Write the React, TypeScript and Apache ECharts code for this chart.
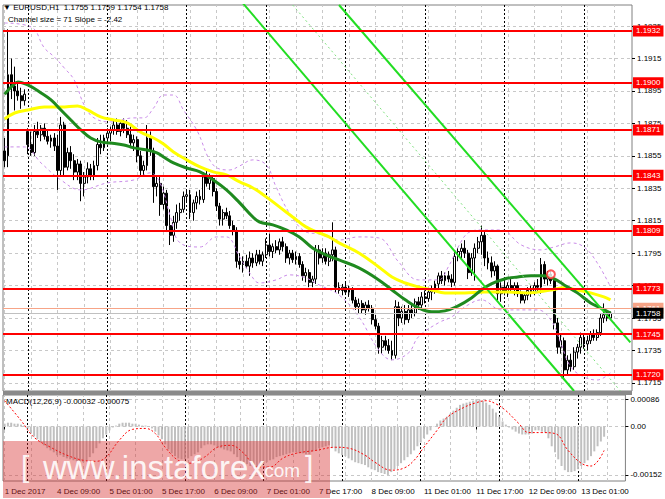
import React, { useEffect, useRef } from 'react';
import * as echarts from 'echarts';

const FONT = 'Liberation Sans';

const barCount = 190;
const labelStep = 16;
const gridStep = 8;
const timeLabels = [
  '1 Dec 2017', '4 Dec 09:00', '5 Dec 01:00', '5 Dec 17:00', '6 Dec 09:00', '7 Dec 01:00',
  '7 Dec 17:00', '8 Dec 09:00', '11 Dec 01:00', '11 Dec 17:00', '12 Dec 09:00', '13 Dec 01:00',
];
const daySeparators = [7, 31, 55, 79, 103, 127, 151, 175];

const priceTicks = [1.1715, 1.1735, 1.1755, 1.1775, 1.1795, 1.1815, 1.1835, 1.1855, 1.1875, 1.1895, 1.1915, 1.1935];
const macdTicks = [0.00086, 0, -0.00152];
const levels = [1.1932, 1.19, 1.1871, 1.1843, 1.1809, 1.1773, 1.1745, 1.172];
const askPrice = 1.1761;
const bidPrice = 1.1758;
const alertPoint = [165, 1.1782];

// [open, high, low, close]
const candles = [
  [1.1858, 1.1866, 1.1848, 1.1852], [1.1855, 1.1933, 1.1848, 1.1905], [1.1905, 1.1915, 1.189, 1.1898],
  [1.1898, 1.191, 1.1883, 1.1895], [1.1895, 1.19, 1.1889, 1.1892], [1.1892, 1.1897, 1.1884, 1.1889],
  [1.1889, 1.1896, 1.1886, 1.1893], [1.187, 1.1872, 1.1856, 1.1862], [1.1862, 1.187, 1.1855, 1.1857],
  [1.1857, 1.1874, 1.1855, 1.187], [1.187, 1.1876, 1.1866, 1.1868], [1.1868, 1.1874, 1.1864, 1.1872],
  [1.1872, 1.1875, 1.1865, 1.1867], [1.1867, 1.1871, 1.1862, 1.1864], [1.1864, 1.1868, 1.186, 1.1866],
  [1.1866, 1.1869, 1.1858, 1.1861], [1.1861, 1.1868, 1.1834, 1.1846], [1.1846, 1.1879, 1.1843, 1.1874],
  [1.1874, 1.1876, 1.1842, 1.1848], [1.1848, 1.186, 1.1846, 1.1857], [1.1857, 1.1861, 1.1847, 1.1852],
  [1.1852, 1.1856, 1.184, 1.1845], [1.1845, 1.1853, 1.184, 1.185], [1.185, 1.1852, 1.1827, 1.1838],
  [1.1838, 1.1845, 1.183, 1.1842], [1.1842, 1.1851, 1.1838, 1.1847], [1.1847, 1.185, 1.184, 1.1843],
  [1.1843, 1.1852, 1.184, 1.1849], [1.1849, 1.1866, 1.1846, 1.1862], [1.1862, 1.1868, 1.1856, 1.186],
  [1.186, 1.1868, 1.1858, 1.1866], [1.1866, 1.1872, 1.1862, 1.1869], [1.1869, 1.1873, 1.1864, 1.1871],
  [1.1871, 1.1877, 1.1868, 1.1874], [1.1874, 1.1878, 1.1868, 1.187], [1.187, 1.1876, 1.1867, 1.1875],
  [1.1875, 1.1878, 1.1869, 1.1872], [1.1872, 1.1877, 1.1866, 1.1868], [1.1868, 1.1873, 1.186, 1.1863],
  [1.1863, 1.1868, 1.1858, 1.1865], [1.1865, 1.1867, 1.1851, 1.1855], [1.1855, 1.1858, 1.1842, 1.1846],
  [1.1846, 1.1852, 1.1843, 1.1849], [1.1849, 1.1874, 1.1846, 1.1866], [1.1866, 1.187, 1.1855, 1.1858],
  [1.1858, 1.186, 1.1826, 1.1836], [1.1836, 1.1842, 1.183, 1.1838], [1.1838, 1.1842, 1.1818, 1.1825],
  [1.1825, 1.1836, 1.1822, 1.1832], [1.1832, 1.1834, 1.1808, 1.1812], [1.1812, 1.1822, 1.18, 1.1806],
  [1.1806, 1.1818, 1.1802, 1.1814], [1.1814, 1.1825, 1.181, 1.182], [1.182, 1.1826, 1.1815, 1.1822],
  [1.1822, 1.1833, 1.182, 1.183], [1.183, 1.1834, 1.1826, 1.1831], [1.1831, 1.1834, 1.1816, 1.182],
  [1.182, 1.1828, 1.1815, 1.1826], [1.1826, 1.1833, 1.1822, 1.183], [1.183, 1.1834, 1.1825, 1.1828],
  [1.1828, 1.1845, 1.1826, 1.1842], [1.1842, 1.1847, 1.1836, 1.1838], [1.1838, 1.1844, 1.1834, 1.1841],
  [1.1841, 1.1843, 1.183, 1.1833], [1.1833, 1.1835, 1.1821, 1.1824], [1.1824, 1.1826, 1.1812, 1.1816],
  [1.1816, 1.1822, 1.1812, 1.182], [1.182, 1.1823, 1.1816, 1.1818], [1.1818, 1.1821, 1.181, 1.1812],
  [1.1812, 1.1815, 1.1806, 1.1809], [1.1809, 1.1811, 1.1786, 1.179], [1.179, 1.1795, 1.1785, 1.1788],
  [1.1788, 1.1793, 1.1783, 1.179], [1.179, 1.1794, 1.1786, 1.1787], [1.1787, 1.1796, 1.1781, 1.1792],
  [1.1792, 1.1795, 1.1786, 1.1789], [1.1789, 1.1797, 1.1787, 1.1794], [1.1794, 1.1797, 1.1788, 1.179],
  [1.179, 1.1796, 1.1787, 1.1794], [1.1794, 1.1804, 1.1792, 1.18], [1.18, 1.1807, 1.1793, 1.1796],
  [1.1796, 1.1801, 1.1792, 1.1799], [1.1799, 1.1803, 1.1795, 1.1797], [1.1797, 1.1804, 1.1794, 1.1802],
  [1.1802, 1.1805, 1.1796, 1.1799], [1.1799, 1.1801, 1.1789, 1.1792], [1.1792, 1.1797, 1.1788, 1.1795],
  [1.1795, 1.1797, 1.1789, 1.1791], [1.1791, 1.1796, 1.1788, 1.1793], [1.1793, 1.1795, 1.1786, 1.1788],
  [1.1788, 1.179, 1.1778, 1.1781], [1.1781, 1.1786, 1.1777, 1.1783], [1.1783, 1.1785, 1.1774, 1.1777],
  [1.1777, 1.1781, 1.1774, 1.1779], [1.1779, 1.18, 1.1776, 1.1797], [1.1797, 1.18, 1.1788, 1.1792],
  [1.1792, 1.1798, 1.1789, 1.1795], [1.1795, 1.1798, 1.1788, 1.179], [1.179, 1.1796, 1.1787, 1.1794],
  [1.1794, 1.1814, 1.179, 1.1797], [1.1797, 1.1799, 1.1771, 1.1774], [1.1774, 1.1777, 1.177, 1.1772],
  [1.1772, 1.1776, 1.1769, 1.1774], [1.1774, 1.1777, 1.177, 1.1771], [1.1771, 1.1775, 1.1768, 1.1773],
  [1.1773, 1.1774, 1.1764, 1.1766], [1.1766, 1.1768, 1.176, 1.1762], [1.1762, 1.1767, 1.1758, 1.1764],
  [1.1764, 1.1766, 1.1758, 1.176], [1.176, 1.1765, 1.1757, 1.1763], [1.1763, 1.1766, 1.1759, 1.1761],
  [1.1761, 1.1763, 1.1751, 1.1754], [1.1754, 1.1757, 1.1748, 1.175], [1.175, 1.1752, 1.1733, 1.1737],
  [1.1737, 1.1744, 1.1733, 1.1741], [1.1741, 1.1744, 1.1735, 1.1738], [1.1738, 1.1742, 1.1733, 1.1735],
  [1.1735, 1.1741, 1.1729, 1.1732], [1.1732, 1.1766, 1.173, 1.1762], [1.1762, 1.1765, 1.175, 1.1755],
  [1.1755, 1.1762, 1.1752, 1.1759], [1.1759, 1.1763, 1.1751, 1.1754], [1.1754, 1.1763, 1.1752, 1.176],
  [1.176, 1.1764, 1.1755, 1.1758], [1.1758, 1.1767, 1.1756, 1.1765], [1.1765, 1.1768, 1.176, 1.1763],
  [1.1763, 1.1771, 1.1761, 1.1768], [1.1768, 1.1772, 1.1764, 1.1767], [1.1767, 1.1773, 1.1765, 1.1771],
  [1.1771, 1.1775, 1.1766, 1.1773], [1.1773, 1.1778, 1.177, 1.1776], [1.1776, 1.1783, 1.1773, 1.1781],
  [1.1781, 1.1784, 1.1776, 1.1778], [1.1778, 1.1783, 1.1775, 1.1781], [1.1781, 1.1784, 1.1777, 1.1779],
  [1.1779, 1.1782, 1.1774, 1.1777], [1.1777, 1.1796, 1.1775, 1.1793], [1.1793, 1.1798, 1.179, 1.1796],
  [1.1796, 1.1801, 1.1791, 1.1798], [1.1798, 1.1803, 1.1792, 1.1795], [1.1795, 1.1797, 1.1779, 1.1783],
  [1.1783, 1.1795, 1.1781, 1.1792], [1.1792, 1.1801, 1.1778, 1.1798], [1.1798, 1.1805, 1.1795, 1.1802],
  [1.1802, 1.1812, 1.1794, 1.1806], [1.1806, 1.1808, 1.1787, 1.1792], [1.1792, 1.1796, 1.1785, 1.1789],
  [1.1789, 1.1793, 1.178, 1.1784], [1.1784, 1.179, 1.1781, 1.1787], [1.1787, 1.1788, 1.1766, 1.177],
  [1.177, 1.1777, 1.1765, 1.1774], [1.1774, 1.1779, 1.1769, 1.1771], [1.1771, 1.1777, 1.1768, 1.1775],
  [1.1775, 1.1779, 1.1771, 1.1773], [1.1773, 1.1777, 1.1769, 1.1775], [1.1775, 1.1777, 1.1768, 1.177],
  [1.177, 1.1772, 1.1764, 1.1766], [1.1766, 1.1771, 1.1764, 1.1769], [1.1769, 1.1774, 1.1766, 1.1772],
  [1.1772, 1.1775, 1.1768, 1.1771], [1.1771, 1.1777, 1.1769, 1.1775], [1.1775, 1.1779, 1.1771, 1.1774],
  [1.1774, 1.1792, 1.177, 1.1788], [1.1788, 1.179, 1.1776, 1.1779], [1.1779, 1.1784, 1.1775, 1.1782],
  [1.1782, 1.1784, 1.1776, 1.1778], [1.1778, 1.178, 1.1748, 1.1752], [1.1752, 1.1755, 1.1733, 1.1737],
  [1.1737, 1.1745, 1.1733, 1.1741], [1.1741, 1.1743, 1.1717, 1.1723], [1.1723, 1.1732, 1.172, 1.1729],
  [1.1729, 1.1733, 1.1722, 1.1725], [1.1725, 1.1737, 1.1723, 1.1734], [1.1734, 1.1739, 1.173, 1.1737],
  [1.1737, 1.1746, 1.1733, 1.1743], [1.1743, 1.1745, 1.1736, 1.1739], [1.1739, 1.1744, 1.1735, 1.1741],
  [1.1741, 1.1747, 1.1739, 1.1745], [1.1745, 1.1748, 1.1741, 1.1743], [1.1743, 1.1748, 1.1741, 1.1746],
  [1.1746, 1.1758, 1.1744, 1.1755], [1.1755, 1.1764, 1.1752, 1.1757], [1.1757, 1.176, 1.1753, 1.1755],
  [1.1755, 1.1759, 1.1754, 1.1758],
];

// [bar, price]
const greenMa = [
  [0, 1.1893], [2, 1.18975], [4, 1.19006], [7, 1.18987], [11, 1.18938], [14, 1.18895], [17, 1.18833],
  [20, 1.18771], [23, 1.1871], [26, 1.1866], [29, 1.18636], [32, 1.18629], [36, 1.18617], [39, 1.18599],
  [43, 1.18586], [46, 1.18568], [48, 1.18543], [51, 1.18506], [55, 1.18475], [59, 1.18451], [63, 1.18401],
  [67, 1.1834], [71, 1.1826], [75, 1.18173], [77, 1.18142], [81, 1.18124], [85, 1.18093], [89, 1.1805],
  [93, 1.17982], [97, 1.17939], [101, 1.17908], [107, 1.17859], [113, 1.17785], [117, 1.17723],
  [121, 1.17662], [125, 1.17612], [129, 1.17588], [133, 1.17594], [137, 1.17625], [141, 1.17674],
  [144, 1.17723], [147, 1.1776], [151, 1.17791], [155, 1.17803], [159, 1.1781], [163, 1.1781],
  [166, 1.17791], [169, 1.17754], [173, 1.17705], [177, 1.17643], [180, 1.17612], [183, 1.1758],
];
const yellowMa = [
  [0, 1.18777], [3, 1.18814], [7, 1.18833], [12, 1.18851], [17, 1.18851], [22, 1.18858], [25, 1.18833],
  [29, 1.1879], [33, 1.18771], [37, 1.18753], [41, 1.18697], [45, 1.1866], [48, 1.18623], [51, 1.18574],
  [55, 1.18525], [59, 1.18482], [63, 1.18451], [67, 1.18432], [71, 1.18389], [75, 1.18352], [79, 1.18297],
  [83, 1.18235], [87, 1.18173], [91, 1.18112], [95, 1.18075], [98, 1.1805], [101, 1.18013], [107, 1.17951],
  [113, 1.17865], [117, 1.17803], [121, 1.17766], [125, 1.17742], [129, 1.17723], [133, 1.17705],
  [139, 1.17705], [145, 1.17711], [152, 1.17711], [158, 1.17705], [165, 1.17723], [169, 1.17736],
  [173, 1.17723], [177, 1.17705], [181, 1.1768], [183, 1.17662],
];
const bandUpper = [
  [0, 1.19369], [8, 1.19345], [12, 1.19215], [15, 1.1916], [18, 1.19092], [21, 1.19018], [24, 1.18864],
  [27, 1.18784], [32, 1.18759], [39, 1.18784], [42, 1.18784], [45, 1.18845], [48, 1.18925], [51, 1.18925],
  [54, 1.18833], [58, 1.1871], [63, 1.18494], [68, 1.18463], [71, 1.18488], [75, 1.18525], [79, 1.18494],
  [82, 1.18358], [86, 1.18198], [91, 1.18081], [95, 1.18068], [101, 1.18031], [107, 1.1805], [113, 1.18044],
  [119, 1.17896], [125, 1.17785], [131, 1.17785], [134, 1.17865], [137, 1.17988], [140, 1.18075],
  [144, 1.18093], [150, 1.18093], [156, 1.18001], [162, 1.1797], [166, 1.17988], [171, 1.18013],
  [175, 1.17988], [179, 1.1789], [183, 1.17742],
];
const bandLower = [
  [0, 1.18605], [6, 1.18605], [11, 1.18506], [17, 1.18401], [23, 1.1834], [31, 1.18383], [39, 1.18401],
  [44, 1.18445], [47, 1.1838], [50, 1.1818], [53, 1.18013], [59, 1.17988], [64, 1.1805], [67, 1.1805],
  [71, 1.17927], [74, 1.17828], [77, 1.17766], [82, 1.17785], [86, 1.17816], [91, 1.17797], [95, 1.17754],
  [101, 1.17692], [107, 1.17557], [113, 1.17353], [117, 1.17292], [122, 1.17335], [125, 1.17434],
  [131, 1.1752], [135, 1.17557], [140, 1.17631], [144, 1.17662], [150, 1.176], [161, 1.176], [165, 1.17538],
  [168, 1.17396], [171, 1.17249], [175, 1.17187], [179, 1.17168], [183, 1.17212],
];
const channelLower = [[72, 1.1949], [172, 1.171]];
const channelUpper = [[101, 1.1948], [189, 1.174]];
const channelMid = [[87, 1.1948], [186, 1.171]];

const macdHist = [
  0.00009, 0.00012, 0.00012, 0.00009, 0.00009, 0.00006, 0.00003, -0.00006, -0.00022, -0.00031,
  -0.0004, -0.0005, -0.00059, -0.00068, -0.00075, -0.00081, -0.0009, -0.0009, -0.00096, -0.001,
  -0.00103, -0.00106, -0.00109, -0.00112, -0.00112, -0.00106, -0.00096, -0.00084, -0.00068, -0.00053,
  -0.00037, -0.00025, -0.00012, -0.00003, 0.00003, 0.00009, 0.00012, 0.00012, 0.00012, 0.00009,
  0.00009, 0.00006, 0.00003, 0.00003, -0.00001, -0.00006, -0.00016, -0.00028, -0.0004, -0.00056,
  -0.00072, -0.00084, -0.00093, -0.001, -0.00103, -0.00103, -0.001, -0.00093, -0.00087, -0.00081,
  -0.00068, -0.00059, -0.00056, -0.00056, -0.00059, -0.00065, -0.00068, -0.00072, -0.00075, -0.00078,
  -0.00087, -0.00096, -0.00106, -0.00112, -0.00118, -0.00124, -0.00128, -0.00128, -0.00124, -0.00118,
  -0.00112, -0.00106, -0.00103, -0.00096, -0.00093, -0.0009, -0.00087, -0.00084, -0.00081, -0.00081,
  -0.00084, -0.00084, -0.00087, -0.00087, -0.00078, -0.00075, -0.00068, -0.00065, -0.00062, -0.00059,
  -0.00068, -0.00078, -0.00084, -0.0009, -0.00093, -0.001, -0.00106, -0.00112, -0.00115, -0.00118,
  -0.00121, -0.00128, -0.00134, -0.00137, -0.00143, -0.00146, -0.00149, -0.00152, -0.00143, -0.00134,
  -0.00124, -0.00115, -0.00106, -0.00096, -0.00087, -0.00075, -0.00062, -0.0005, -0.00037, -0.00025,
  -0.00012, 0.00001, 0.00009, 0.00019, 0.00025, 0.00031, 0.0004, 0.0005, 0.00059, 0.00068,
  0.00072, 0.00075, 0.00078, 0.00081, 0.00086, 0.00084, 0.00081, 0.00075, 0.00068, 0.00056,
  0.00044, 0.00031, 0.00016, 0.00006, -0.00003, -0.00009, -0.00016, -0.00022, -0.00025, -0.00025,
  -0.00025, -0.00022, -0.00012, -0.00012, -0.00016, -0.00019, -0.00037, -0.00062, -0.00081, -0.00103,
  -0.00124, -0.00137, -0.00143, -0.00143, -0.0014, -0.00134, -0.00124, -0.00115, -0.00106, -0.00093,
  -0.00078, -0.00062, -0.00047, -0.00032,
];
const macdSignal = [
  [0, 0.00081], [5, 0.00019], [9, -0.00034], [14, -0.00065], [19, -0.0009], [24, -0.00106], [28, -0.00109],
  [31, -0.00096], [35, -0.00043], [39, -0.00009], [43, -0.00006], [46, -0.00022], [49, -0.00065],
  [53, -0.00106], [57, -0.00115], [61, -0.00096], [65, -0.00065], [69, -0.00059], [73, -0.00084],
  [77, -0.00127], [81, -0.00127], [85, -0.00099], [89, -0.00084], [95, -0.00075], [101, -0.00065],
  [105, -0.00068], [110, -0.0009], [113, -0.00112], [118, -0.00137], [122, -0.0013], [125, -0.00106],
  [128, -0.00065], [132, -0.00012], [135, 0.00028], [140, 0.00059], [144, 0.00075], [147, 0.00081],
  [150, 0.00071], [153, 0.0005], [157, 0.00009], [160, -0.00019], [164, -0.00019], [168, -0.00022],
  [172, -0.00075], [176, -0.00115], [179, -0.00124], [183, -0.00075],
];

const cats = Array.from({ length: barCount }, (_, i) => String(i));
const gridBars = Array.from({ length: Math.ceil(barCount / gridStep) }, (_, i) => i * gridStep);
const showLabel = (i: number) => i % labelStep === 0 && i / labelStep < timeLabels.length;

const guide = (axis: number, data: any[], color: string, type: any, z = 1) => ({
  type: 'line',
  xAxisIndex: axis,
  yAxisIndex: axis,
  data: [],
  silent: true,
  markLine: {
    silent: true,
    z,
    precision: 6,
    symbol: 'none',
    label: { show: false },
    emphasis: { disabled: true },
    lineStyle: { color, type, width: 1 },
    data,
  },
});

const levelSeries = (values: number[], color: string, width: number, bg: string, text: string, z: number) => ({
  type: 'line',
  xAxisIndex: 0,
  yAxisIndex: 0,
  data: [],
  silent: true,
  markLine: {
    silent: true,
    z,
    precision: 6,
    symbol: 'none',
    emphasis: { disabled: true },
    lineStyle: { color, width, type: 'solid' },
    label: {
      show: true,
      position: 'end',
      distance: 1,
      formatter: (p: any) => Number(p.value).toFixed(4),
      color: text,
      backgroundColor: bg,
      padding: [2, 3, 1, 3],
      fontSize: 8,
      fontFamily: FONT,
    },
    data: values.map((v) => ({ yAxis: v })),
  },
});

const smoothLine = (data: number[][], color: string, width: number, type: any, z = 3, axis = 0) => ({
  type: 'line',
  xAxisIndex: axis,
  yAxisIndex: axis,
  data,
  smooth: 0.4,
  showSymbol: false,
  silent: true,
  z,
  lineStyle: { color, width, type },
});

const App: React.FC = () => {
  const chartRef = useRef<HTMLDivElement>(null);

  useEffect(() => {
    const chart = echarts.init(chartRef.current, null, { renderer: 'svg' });

    const textStyle = { fontSize: 8, fontFamily: FONT, color: '#000' };
    const mark = 'rgba(255,255,255,0.9)';

    const option = {
      animation: false,
      backgroundColor: '#ffffff',
      grid: [
        { left: 3, right: 33, top: 5, height: 386, show: true, borderColor: '#808080', borderWidth: 1 },
        { left: 3, right: 33, top: 395, height: 86, show: true, borderColor: '#808080', borderWidth: 1 },
      ],
      xAxis: [
        {
          type: 'category', gridIndex: 0, data: cats,
          axisLine: { show: false }, axisTick: { show: false }, axisLabel: { show: false }, splitLine: { show: false },
        },
        {
          type: 'category', gridIndex: 1, data: cats,
          axisLine: { show: false },
          axisTick: { show: true, alignWithLabel: true, interval: (i: number) => showLabel(i), length: 3, lineStyle: { color: '#000' } },
          axisLabel: {
            ...textStyle,
            interval: (i: number) => showLabel(i),
            formatter: (v: string) => timeLabels[Number(v) / labelStep] ?? '',
            align: 'left',
            margin: 6,
          },
          splitLine: { show: false },
        },
      ],
      yAxis: [
        {
          type: 'value', gridIndex: 0, position: 'right', min: 1.171, max: 1.1948,
          axisLine: { show: false },
          axisTick: { show: true, customValues: priceTicks, length: 3, lineStyle: { color: '#000' } },
          axisLabel: { ...textStyle, customValues: priceTicks, formatter: (v: number) => v.toFixed(4), margin: 5 },
          splitLine: { show: false },
        },
        {
          type: 'value', gridIndex: 1, position: 'right', min: -0.00171, max: 0.00099,
          axisLine: { show: false },
          axisTick: { show: true, customValues: macdTicks, length: 3, lineStyle: { color: '#000' } },
          axisLabel: {
            ...textStyle,
            customValues: macdTicks,
            formatter: (v: number) => (v === 0 ? '0.00' : v.toFixed(5)),
            margin: 5,
          },
          splitLine: { show: false },
        },
      ],
      series: [
        guide(0, [...priceTicks.map((v) => ({ yAxis: v })), ...gridBars.map((b) => ({ xAxis: b }))], '#c8c8c8', [3, 3]),
        guide(0, daySeparators.map((b) => ({ xAxis: b })), '#000000', [2, 2]),
        guide(1, [...macdTicks.map((v) => ({ yAxis: v })), ...gridBars.map((b) => ({ xAxis: b }))], '#c8c8c8', [3, 3]),
        guide(1, daySeparators.map((b) => ({ xAxis: b })), '#000000', [2, 2]),
        {
          type: 'candlestick',
          xAxisIndex: 0,
          yAxisIndex: 0,
          z: 2,
          silent: true,
          barWidth: 2.4,
          data: candles.map(([o, h, l, c]) => [o, c, l, h]),
          itemStyle: { color: '#ffffff', color0: '#000000', borderColor: '#000000', borderColor0: '#000000', borderWidth: 1 },
        },
        smoothLine(bandUpper, '#c98be8', 1, [3, 3]),
        smoothLine(bandLower, '#c98be8', 1, [3, 3]),
        smoothLine(yellowMa, '#ffff00', 3, 'solid', 4),
        smoothLine(greenMa, '#1f8a1f', 3, 'solid', 4),
        { ...smoothLine(channelLower, '#22dd22', 2, 'solid', 4), smooth: false },
        { ...smoothLine(channelUpper, '#22dd22', 2, 'solid', 4), smooth: false },
        { ...smoothLine(channelMid, '#7fe07f', 1, [2, 3], 4), smooth: false },
        levelSeries(levels, '#ff0000', 2, '#ff0000', '#ffffff', 6),
        levelSeries([askPrice], '#f7a487', 1, '#f7a487', '#ffffff', 7),
        levelSeries([bidPrice], '#c0c0c0', 1, '#000000', '#ffffff', 8),
        {
          type: 'scatter',
          xAxisIndex: 0,
          yAxisIndex: 0,
          z: 9,
          silent: true,
          symbol: 'emptyCircle',
          symbolSize: 8,
          data: [alertPoint],
          itemStyle: { color: '#ff3030', borderColor: '#ff3030', borderWidth: 1.5 },
        },
        {
          type: 'bar',
          xAxisIndex: 1,
          yAxisIndex: 1,
          z: 2,
          silent: true,
          barWidth: 2,
          data: macdHist,
          itemStyle: { color: '#c0c0c0' },
        },
        smoothLine(macdSignal, '#ff0000', 1, [2, 2], 4, 1),
      ],
      graphic: [
        { type: 'rect', z: 50, shape: { x: 3, y: 391, width: 629, height: 4 }, style: { fill: '#8a8a8a' } },
        {
          type: 'text', left: 3, top: 3, z: 60,
          style: { text: '▼ EURUSD,H1  1.1755 1.1759 1.1754 1.1758', fontSize: 8, fontFamily: FONT, fill: '#000' },
        },
        {
          type: 'text', left: 8, top: 15, z: 60,
          style: { text: 'Channel size = 71 Slope = -2.42', fontSize: 8, fontFamily: FONT, fill: '#000' },
        },
        {
          type: 'text', left: 6, top: 397, z: 60,
          style: { text: 'MACD(12,26,9) -0.00032 -0.00075', fontSize: 8, fontFamily: FONT, fill: '#000' },
        },
        { type: 'rect', z: 100, shape: { x: 3, y: 441, width: 327, height: 57 }, style: { fill: 'rgba(215,45,45,0.42)' } },
        { type: 'text', left: 21, top: 451, z: 101, style: { text: '[', fontSize: 30, fontFamily: FONT, fill: mark } },
        { type: 'text', left: 43, top: 451, z: 101, style: { text: 'www.instaforex', fontSize: 33, fontFamily: FONT, fill: mark } },
        { type: 'text', left: 259, top: 461, z: 101, style: { text: '.com', fontSize: 19, fontFamily: FONT, fill: mark } },
        { type: 'text', left: 305, top: 451, z: 101, style: { text: ']', fontSize: 30, fontFamily: FONT, fill: mark } },
      ],
    };

    chart.setOption(option as any);

    return () => {
      chart.dispose();
    };
  }, []);

  return (
    <div
      ref={chartRef}
      style={{ position: 'fixed', left: 0, top: 0, width: '665px', height: '499px', background: '#fff' }}
    />
  );
};

export default App;
